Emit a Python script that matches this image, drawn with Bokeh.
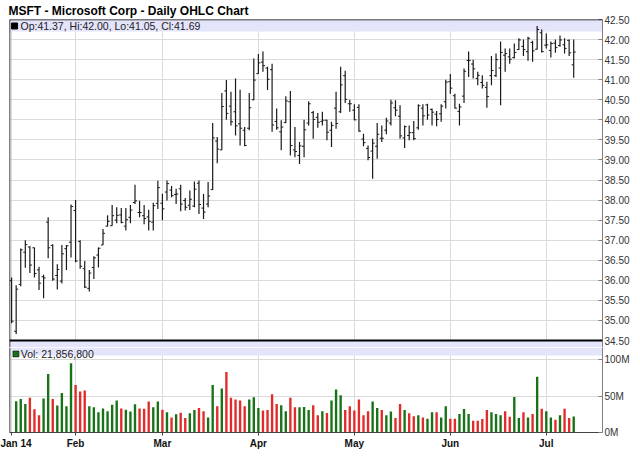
from bokeh.plotting import figure
from bokeh.layouts import column
from bokeh.models import (FixedTicker, Range1d, BoxAnnotation, Label, ColumnDataSource,
                          CustomJSTickFormatter, Span)
from bokeh.embed import file_html
from bokeh.resources import INLINE

FONT = "Liberation Sans"

# ---- data (trading days 13 Jan 2014 .. 10 Jul 2014) ----
month_ticks = [0, 14, 33, 54, 75, 96, 117]
month_labels = ["Jan 14", "Feb", "Mar", "Apr", "May", "Jun", "Jul"]

opens = [35.99, 34.73, 35.90, 36.70, 36.83, 36.81, 36.26, 36.09, 37.45, 36.87,
         36.12, 35.98, 36.79, 36.95, 37.74, 36.97, 36.29, 35.80, 36.32, 36.63,
         36.88, 37.35, 37.36, 37.50, 37.63, 37.35, 37.57, 37.94, 37.69, 37.61,
         37.58, 37.45, 37.92, 37.92, 38.20, 38.25, 38.14, 38.28, 37.99, 37.87,
         37.85, 38.42, 37.80, 37.90, 38.26, 39.47, 39.25, 40.72, 40.34, 40.20,
         39.90, 39.74, 39.79, 40.50, 41.15, 41.44, 41.29, 41.25, 39.96, 39.70,
         39.93, 40.45, 39.25, 39.11, 39.34, 39.92, 40.18, 40.06, 39.96, 39.99,
         39.74, 40.29, 40.20, 41.10, 40.40, 40.24, 40.31, 39.52, 39.29, 39.22,
         39.34, 39.54, 39.74, 39.92, 40.30, 40.09, 39.55, 39.61, 39.68, 39.80,
         40.29, 40.37, 40.26, 40.14, 40.15, 40.45, 40.95, 40.60, 40.21, 40.59,
         41.48, 41.39, 41.03, 40.93, 40.81, 41.10, 41.10, 41.29, 41.61, 41.57,
         41.55, 41.75, 41.83, 41.70, 41.93, 41.76, 42.17, 41.86, 41.73, 41.91,
         41.85, 41.87, 41.98, 41.37]
highs = [36.07, 35.88, 36.79, 37.00, 36.85, 36.82, 36.34, 36.14, 37.57, 36.90,
         36.40, 36.88, 36.88, 37.89, 38.00, 37.00, 36.48, 36.26, 36.60, 36.82,
         37.28, 37.62, 37.88, 37.82, 37.80, 37.80, 37.88, 38.38, 37.98, 37.88,
         37.76, 37.93, 38.48, 38.16, 38.49, 38.35, 38.28, 38.38, 38.05, 38.24,
         38.46, 38.49, 38.15, 38.45, 39.92, 39.57, 40.67, 40.99, 40.70, 41.03,
         40.75, 39.82, 40.67, 41.53, 41.64, 41.70, 41.32, 41.40, 40.28, 39.99,
         40.59, 40.72, 39.82, 39.45, 40.00, 40.46, 40.22, 40.17, 40.20, 40.00,
         39.95, 40.70, 41.32, 41.22, 40.50, 40.39, 40.39, 39.65, 39.36, 39.53,
         39.92, 39.86, 40.05, 40.50, 40.49, 40.36, 39.86, 39.86, 39.97, 40.39,
         40.39, 40.40, 40.28, 40.22, 40.39, 41.00, 41.14, 40.65, 40.40, 41.28,
         41.70, 41.50, 41.20, 41.11, 40.95, 41.59, 41.65, 41.95, 41.78, 41.78,
         41.90, 42.03, 42.00, 42.07, 41.97, 42.34, 42.25, 42.15, 41.95, 42.00,
         42.10, 42.03, 42.00, 42.00]
lows = [34.93, 34.66, 35.85, 36.31, 36.18, 36.07, 35.76, 35.55, 36.55, 35.99,
        35.77, 35.92, 36.26, 36.57, 36.45, 36.29, 35.81, 35.72, 36.03, 36.32,
        36.88, 37.34, 37.36, 37.42, 37.42, 37.24, 37.42, 37.90, 37.57, 37.40,
        37.24, 37.24, 37.78, 37.50, 37.99, 38.07, 37.90, 37.72, 37.74, 37.75,
        37.82, 37.65, 37.53, 37.82, 38.25, 38.92, 39.25, 40.00, 39.86, 39.61,
        39.36, 39.34, 39.74, 40.49, 41.15, 41.20, 40.74, 39.70, 39.75, 39.24,
        39.92, 39.11, 39.07, 38.90, 39.07, 39.86, 39.53, 39.80, 39.86, 39.49,
        39.32, 39.78, 40.17, 40.42, 40.20, 39.99, 39.70, 39.34, 38.99, 38.53,
        39.03, 39.45, 39.64, 39.86, 40.09, 39.53, 39.30, 39.49, 39.49, 39.75,
        39.86, 40.00, 39.86, 39.84, 39.95, 40.28, 40.65, 40.28, 39.86, 40.42,
        41.07, 41.03, 40.86, 40.78, 40.30, 40.86, 41.07, 40.36, 41.20, 41.40,
        41.53, 41.74, 41.59, 41.47, 41.45, 41.75, 41.68, 41.78, 41.55, 41.67,
        41.82, 41.65, 41.59, 41.05]
closes = [34.98, 35.78, 36.76, 36.89, 36.38, 36.17, 35.93, 36.06, 36.81, 36.03,
          36.27, 36.66, 36.86, 37.84, 36.48, 36.35, 35.83, 36.18, 36.56, 36.80,
          37.17, 37.47, 37.61, 37.62, 37.44, 37.51, 37.75, 37.98, 37.69, 37.54,
          37.47, 37.86, 38.31, 37.78, 38.41, 38.11, 38.15, 37.90, 37.82, 38.02,
          38.27, 37.89, 37.70, 38.10, 39.55, 39.27, 40.33, 40.16, 39.95, 39.85,
          39.79, 39.36, 40.30, 40.99, 41.42, 41.35, 41.01, 39.87, 39.80, 39.82,
          40.47, 39.36, 39.21, 39.35, 39.75, 40.40, 40.01, 39.94, 39.99, 39.69,
          39.86, 39.91, 40.87, 40.51, 40.40, 40.00, 39.72, 39.43, 39.06, 39.42,
          39.64, 39.54, 39.97, 40.42, 40.24, 39.60, 39.83, 39.68, 39.53, 40.35,
          40.10, 40.12, 40.19, 40.01, 40.34, 40.94, 40.79, 40.29, 40.32, 41.21,
          41.48, 41.27, 41.11, 40.86, 40.58, 41.23, 41.50, 41.68, 41.65, 41.51,
          41.68, 41.99, 41.75, 42.03, 41.72, 42.25, 41.70, 41.87, 41.90, 41.80,
          41.99, 41.78, 41.67, 41.69]
# volume in millions of shares, from 14 Jan 2014 (first visible volume bar)
volumes_m = [42.9, 46.0, 39.0, 47.5, 32.0, 23.5, 46.5, 80.0, 46.0, 37.0,
             54.0, 36.0, 95.0, 65.0, 56.0, 57.6, 36.0, 34.6, 27.6, 33.0,
             29.0, 38.0, 43.8, 33.0, 31.0, 28.6, 38.7, 33.0, 32.7, 42.4,
             34.6, 42.4, 31.0, 27.6, 20.7, 24.9, 27.2, 19.8, 26.3, 30.9,
             33.6, 29.0, 20.7, 65.0, 36.0, 60.4, 83.0, 47.5, 45.2, 43.8,
             36.0, 45.2, 48.4, 33.6, 30.0, 30.9, 52.5, 39.2, 37.3, 29.0,
             47.5, 34.6, 34.6, 35.0, 30.9, 37.3, 23.5, 29.0, 26.7, 43.8,
             59.0, 51.0, 30.9, 36.0, 30.0, 45.2, 23.5, 29.0, 42.4, 33.6,
             30.9, 23.5, 28.6, 19.8, 39.2, 30.9, 26.3, 22.1, 23.5, 20.7,
             18.9, 27.6, 27.6, 20.7, 36.0, 18.9, 18.9, 25.3, 32.3, 25.3,
             16.1, 16.1, 18.4, 30.9, 27.6, 25.3, 23.5, 29.0, 21.7, 48.8,
             19.8, 27.6, 20.7, 25.3, 76.5, 32.7, 29.0, 20.7, 17.5, 23.5,
             32.7, 19.8, 21.8568]
price_ticks = [34.5 + 0.5 * k for k in range(17)]
volume_ticks = [0, 50e6, 100e6]

GREEN = "#187318"
RED = "#e22b2b"
GRID = "#dadada"
BAND = "#e4e4fb"
AXIS = "#808080"
LABEL = "#333333"

n = len(closes)
idx = list(range(n))
X0, X1 = -0.46, 129.3
x_range = Range1d(X0, X1)

P_LO, P_HI = price_ticks[0], price_ticks[-1]
PX_PER_DOLLAR = 321 / (P_HI - P_LO)
EXT_PX = 7
EXT = EXT_PX / PX_PER_DOLLAR      # a few px of the price frame below its lowest tick


def style_right_axis(ax):
    ax.major_tick_in = 4
    ax.major_tick_out = 0
    ax.minor_tick_line_color = None
    ax.axis_line_color = AXIS
    ax.major_tick_line_color = AXIS
    ax.major_label_text_font = FONT
    ax.major_label_text_font_size = "10px"
    ax.major_label_text_color = LABEL
    ax.major_label_standoff = 2


# ---- price panel ----
p1 = figure(frame_width=593, frame_height=321 + EXT_PX, x_range=x_range,
            y_range=Range1d(P_LO - EXT, P_HI), y_axis_location="right",
            x_axis_location=None, output_backend="svg", toolbar_location=None,
            min_border_left=9, min_border_top=0, min_border_bottom=0,
            min_border_right=4, background_fill_color="white",
            border_fill_color="white",
            title="MSFT - Microsoft Corp - Daily OHLC Chart")
p1.title.text_font = FONT
p1.title.text_font_size = "12px"
p1.title.text_font_style = "bold"
p1.title.text_color = "black"
p1.title.align = "left"
p1.title.standoff = 3
p1.title.offset = -1
p1.outline_line_color = None
p1.xgrid.ticker = FixedTicker(ticks=month_ticks)
p1.xgrid.grid_line_color = GRID
p1.ygrid.grid_line_color = GRID
p1.yaxis.ticker = FixedTicker(ticks=price_ticks)
p1.ygrid.ticker = FixedTicker(ticks=price_ticks)
p1.yaxis.formatter = CustomJSTickFormatter(code="return tick.toFixed(2);")
style_right_axis(p1.yaxis[0])

p1.add_layout(BoxAnnotation(top=P_HI, bottom=P_HI - 12 / PX_PER_DOLLAR, fill_color=BAND,
                            fill_alpha=1, line_color=None, level="underlay"))
p1.add_layout(BoxAnnotation(top=P_LO, bottom=P_LO - EXT, fill_color=BAND,
                            fill_alpha=1, line_color=None, level="underlay"))
p1.add_layout(Span(location=P_HI, dimension="width", line_color="black", line_width=1.5))
p1.add_layout(Span(location=P_LO, dimension="width", line_color="black", line_width=2.2))
p1.add_layout(Span(location=X0, dimension="height", line_color="black", line_width=1.5))

src = ColumnDataSource(dict(
    x=idx, o=opens, h=highs, l=lows, c=closes,
    xl=[i - 0.45 for i in idx], xr=[i + 0.45 for i in idx]))
p1.segment(x0="x", y0="l", x1="x", y1="h", source=src, line_color="#1a1a1a", line_width=1.2)
p1.segment(x0="xl", y0="o", x1="x", y1="o", source=src, line_color="#1a1a1a", line_width=1)
p1.segment(x0="x", y0="c", x1="xr", y1="c", source=src, line_color="#1a1a1a", line_width=1)

legend_y = P_HI - 6.5 / PX_PER_DOLLAR
legend_txt = "Op:%.2f, Hi:%.2f, Lo:%.2f, Cl:%.2f" % (opens[-1], highs[-1], lows[-1], closes[-1])
p1.rect(x=[0.65], y=[legend_y], width=6, height=6, width_units="screen",
        height_units="screen", fill_color="black", line_color="black")
p1.add_layout(Label(x=1.95, y=legend_y, text=legend_txt, text_font=FONT,
                    text_font_size="10.5px", text_baseline="middle", text_color="#222222"))
p1.add_layout(Label(x=X1 + 0.33, y=closes[-1], text="%.2f" % closes[-1], text_font=FONT,
                    text_font_size="10px", text_baseline="middle", text_color="white",
                    background_fill_color="black"))

# ---- volume panel ----
VF_H = 92 - EXT_PX
V_TOP = VF_H / 0.73 * 1e6
p2 = figure(frame_width=593, frame_height=VF_H, x_range=x_range,
            y_range=Range1d(0, V_TOP), y_axis_location="right",
            output_backend="svg", toolbar_location=None,
            min_border_left=9, min_border_top=0, min_border_right=4,
            background_fill_color="white", border_fill_color="white")
p2.outline_line_color = None
p2.xgrid.ticker = FixedTicker(ticks=month_ticks)
p2.xgrid.grid_line_color = GRID
p2.ygrid.ticker = FixedTicker(ticks=volume_ticks[1:])
p2.ygrid.grid_line_color = GRID
p2.yaxis.ticker = FixedTicker(ticks=volume_ticks)
p2.yaxis.formatter = CustomJSTickFormatter(code="return (tick/1e6).toFixed(0) + 'M';")
style_right_axis(p2.yaxis[0])
p2.add_layout(Span(location=X0, dimension="height", line_color="black", line_width=1.5))

xa = p2.xaxis[0]
xa.ticker = FixedTicker(ticks=month_ticks)
xa.major_label_overrides = {t: s for t, s in zip(month_ticks, month_labels)}
xa.major_tick_in = 0
xa.major_tick_out = 3
xa.minor_tick_line_color = None
xa.axis_line_color = "#444444"
xa.axis_line_width = 1.2
xa.major_tick_line_color = "#444444"
xa.major_label_text_font = FONT
xa.major_label_text_font_size = "10px"
xa.major_label_text_font_style = "bold"
xa.major_label_text_color = "#111111"
xa.major_label_standoff = 2

VPX = VF_H / V_TOP
p2.add_layout(BoxAnnotation(top=V_TOP, bottom=V_TOP - 8 / VPX, fill_color=BAND, fill_alpha=1,
                            line_color=None, level="underlay"))

vx = idx[1:]
vcol = [GREEN if closes[i] >= closes[i - 1] else RED for i in vx]
vsrc = ColumnDataSource(dict(x=vx, top=[v * 1e6 for v in volumes_m], color=vcol))
p2.vbar(x="x", top="top", bottom=0, width=0.52, source=vsrc, fill_color="color",
        line_color=None)

# legend row straddles the panel boundary: text sits in the upper volume frame
vleg_y = V_TOP - 6.5 / VPX
p2.rect(x=[0.95], y=[vleg_y], width=6, height=6, width_units="screen",
        height_units="screen", fill_color=GREEN, line_color="black", line_width=0.5)
p2.add_layout(Label(x=2.0, y=vleg_y, text="Vol: {:,}".format(int(round(volumes_m[-1] * 1e6))),
                    text_font=FONT, text_font_size="10.5px", text_baseline="middle",
                    text_color="#222222"))

layout = column(p1, p2, spacing=0)
open("out.html", "w").write(file_html(layout, INLINE))
